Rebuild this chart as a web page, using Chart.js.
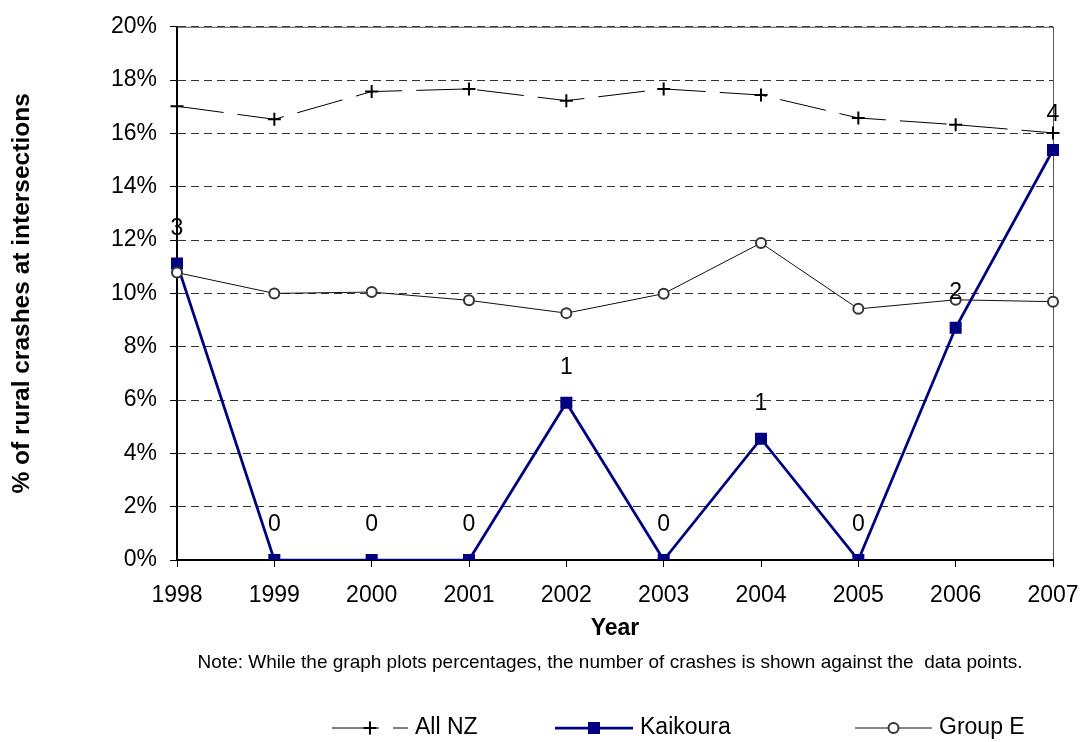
<!DOCTYPE html>
<html>
<head>
<meta charset="utf-8">
<script src="https://cdn.jsdelivr.net/npm/chart.js@4.4.0/dist/chart.umd.min.js"></script>
<style>
  html, body { margin: 0; padding: 0; background: #fff; }
</style>
</head>
<body>
<canvas id="crashChart" width="1085" height="742"></canvas>
<script>
// DATA
const years = ['1998', '1999', '2000', '2001', '2002', '2003', '2004', '2005', '2006', '2007'];
const allNZ = [17.02, 16.53, 17.57, 17.67, 17.23, 17.67, 17.44, 16.58, 16.33, 16.02];
const kaikoura = [11.12, 0, 0, 0, 5.9, 0, 4.55, 0, 8.71, 15.38];
const groupE = [10.78, 10.0, 10.05, 9.74, 9.26, 9.99, 11.89, 9.42, 9.76, 9.69];
const crashCounts = [3, 0, 0, 0, 1, 0, 1, 0, 2, 4];
const yTickValues = [0, 2, 4, 6, 8, 10, 12, 14, 16, 18, 20];

const FONT = "'Liberation Sans', Arial, sans-serif";
Chart.defaults.font.family = FONT;
Chart.defaults.color = '#000';

// thin frame line along the top of the plot area
const frameTop = {
    id: 'frameTop',
    beforeDatasetsDraw(chart) {
        const ctx = chart.ctx;
        const area = chart.chartArea;
        ctx.save();
        ctx.strokeStyle = '#555';
        ctx.lineWidth = 1;
        ctx.beginPath();
        ctx.moveTo(area.left, area.top + 0.5);
        ctx.lineTo(area.right, area.top + 0.5);
        ctx.stroke();
        ctx.restore();
    }
};

// number of crashes over the Kaikoura points
const countLabels = {
    id: 'countLabels',
    afterDatasetsDraw(chart) {
        const ctx = chart.ctx;
        const meta = chart.getDatasetMeta(1);
        ctx.save();
        ctx.font = '23px ' + FONT;
        ctx.fillStyle = '#000';
        ctx.textAlign = 'center';
        ctx.textBaseline = 'middle';
        meta.data.forEach((pt, i) => {
            ctx.fillText(String(crashCounts[i]), pt.x, pt.y - 35);
        });
        ctx.restore();
    }
};

// note + excel style legend under the x axis
const footer = {
    id: 'footer',
    afterDraw(chart) {
        const ctx = chart.ctx;
        const area = chart.chartArea;
        ctx.save();
        ctx.fillStyle = '#000';
        ctx.textBaseline = 'middle';
        ctx.textAlign = 'center';
        ctx.font = '19px ' + FONT;
        ctx.fillText('Note: While the graph plots percentages, the number of crashes is shown against the  data points.',
            610, area.bottom + 103);

        const y = area.bottom + 168;
        ctx.textAlign = 'left';
        ctx.font = '23px ' + FONT;
        const items = [
            { x: 332, ds: chart.data.datasets[0] },
            { x: 555, ds: chart.data.datasets[1] },
            { x: 855, ds: chart.data.datasets[2] }
        ];
        items.forEach(item => {
            const ds = item.ds;
            const len = ds.legendLen;
            ctx.save();
            ctx.strokeStyle = ds.borderColor;
            ctx.lineWidth = ds.borderWidth;
            ctx.setLineDash(ds.borderDash || []);
            ctx.beginPath();
            ctx.moveTo(item.x, y);
            ctx.lineTo(item.x + len, y);
            ctx.stroke();
            ctx.setLineDash([]);
            ctx.strokeStyle = ds.pointBorderColor;
            ctx.fillStyle = ds.pointBackgroundColor;
            ctx.lineWidth = ds.pointBorderWidth;
            Chart.helpers.drawPoint(ctx, {
                pointStyle: ds.pointStyle,
                radius: ds.pointRadius,
                rotation: 0,
                borderWidth: ds.pointBorderWidth
            }, item.x + len / 2, y);
            ctx.restore();
            ctx.fillStyle = '#000';
            ctx.fillText(ds.label, item.x + len + 7, y);
        });
        ctx.restore();
    }
};

const ctx = document.getElementById('crashChart').getContext('2d');
const crashChart = new Chart(ctx, {
    type: 'line',
    data: {
        labels: years,
        datasets: [{
            label: 'All NZ',
            data: allNZ,
            borderColor: '#000',
            borderWidth: 1,
            borderDash: [47, 14],
            pointStyle: 'cross',
            pointRadius: 6.5,
            pointBorderWidth: 2,
            pointBorderColor: '#000',
            pointBackgroundColor: '#000',
            legendLen: 76,
            order: 0
        }, {
            label: 'Kaikoura',
            data: kaikoura,
            borderColor: '#000080',
            borderWidth: 2.75,
            pointStyle: 'rect',
            pointRadius: 8.5,
            pointBorderWidth: 0,
            pointBorderColor: '#000080',
            pointBackgroundColor: '#000080',
            legendLen: 78,
            order: 2
        }, {
            label: 'Group E',
            data: groupE,
            borderColor: '#111',
            borderWidth: 1,
            pointStyle: 'circle',
            pointRadius: 5,
            pointBorderWidth: 2,
            pointBorderColor: '#333',
            pointBackgroundColor: '#fff',
            legendLen: 77,
            order: 1
        }]
    },
    options: {
        responsive: false,
        animation: false,
        devicePixelRatio: 1,
        layout: { padding: { left: 0, right: 32, top: 20, bottom: 0 } },
        plugins: {
            legend: { display: false },
            tooltip: { enabled: false }
        },
        scales: {
            x: {
                offset: false,
                afterFit: (scale) => {
                    scale.height = 182;
                    scale.paddingLeft = 0;
                    scale.paddingRight = 0;
                },
                grid: {
                    drawOnChartArea: true,
                    color: (c) => c.index === years.length - 1 ? '#555' : 'rgba(0,0,0,0)',
                    tickColor: '#000',
                    tickLength: 7,
                    lineWidth: 1
                },
                border: { color: '#000', width: 2 },
                ticks: { font: { size: 23 }, color: '#000', padding: 15, maxRotation: 0 },
                title: {
                    display: true,
                    text: 'Year',
                    font: { size: 23, weight: 'bold' },
                    color: '#000',
                    padding: { top: 0, bottom: 100 }
                }
            },
            y: {
                min: 0,
                max: 20,
                afterFit: (scale) => { scale.width = 177; },
                afterBuildTicks: (scale) => { scale.ticks = yTickValues.map(v => ({ value: v })); },
                grid: {
                    color: '#333',
                    tickBorderDash: [],
                    tickColor: '#000',
                    tickLength: 7,
                    lineWidth: 1
                },
                border: { color: '#000', width: 2, dash: [8, 5] },
                ticks: {
                    font: { size: 23 },
                    color: '#000',
                    padding: 13,
                    callback: (v) => v + '%'
                },
                title: {
                    display: true,
                    text: '% of rural crashes at intersections',
                    font: { size: 24.5, weight: 'bold' },
                    color: '#000',
                    padding: { top: 8, bottom: 0 }
                }
            }
        }
    },
    plugins: [frameTop, countLabels, footer]
});
</script>
</body>
</html>
